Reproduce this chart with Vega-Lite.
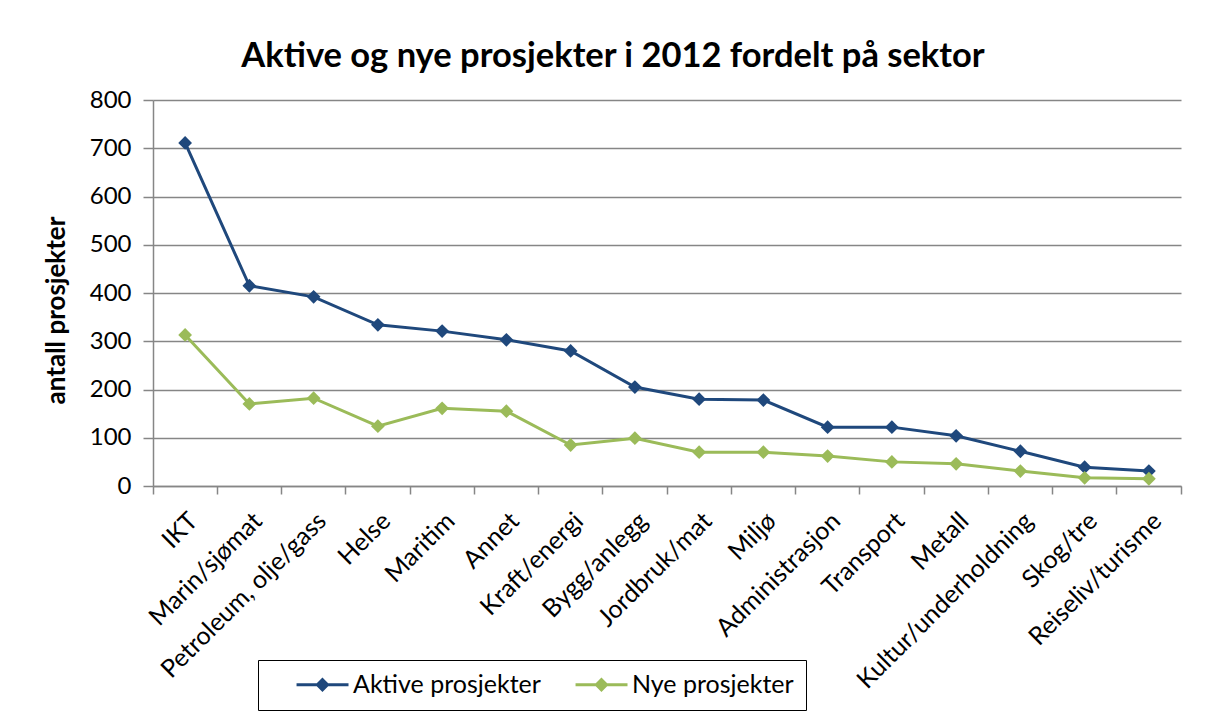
{
  "$schema": "https://vega.github.io/schema/vega-lite/v6.json",
  "width": 1028,
  "height": 386,
  "autosize": {"type": "none"},
  "padding": {"left": 153, "top": 100, "right": 25, "bottom": 231},
  "background": "white",
  "config": {
    "font": "Lato",
    "view": {"stroke": null},
    "axis": {"labelColor": "black", "titleColor": "black"}
  },
  "title": {
    "text": "Aktive og nye prosjekter i 2012 fordelt på sektor",
    "font": "Lato",
    "fontSize": 34.5,
    "fontWeight": "bold",
    "color": "black",
    "anchor": "middle",
    "dx": -54,
    "offset": 14
  },
  "data": {
    "values": [
      {"idx": 0, "sector": "IKT", "series": "Aktive prosjekter", "value": 711},
      {"idx": 1, "sector": "Marin/sjømat", "series": "Aktive prosjekter", "value": 415},
      {"idx": 2, "sector": "Petroleum, olje/gass", "series": "Aktive prosjekter", "value": 392},
      {"idx": 3, "sector": "Helse", "series": "Aktive prosjekter", "value": 334},
      {"idx": 4, "sector": "Maritim", "series": "Aktive prosjekter", "value": 321},
      {"idx": 5, "sector": "Annet", "series": "Aktive prosjekter", "value": 303},
      {"idx": 6, "sector": "Kraft/energi", "series": "Aktive prosjekter", "value": 280},
      {"idx": 7, "sector": "Bygg/anlegg", "series": "Aktive prosjekter", "value": 205},
      {"idx": 8, "sector": "Jordbruk/mat", "series": "Aktive prosjekter", "value": 180},
      {"idx": 9, "sector": "Miljø", "series": "Aktive prosjekter", "value": 178},
      {"idx": 10, "sector": "Administrasjon", "series": "Aktive prosjekter", "value": 122},
      {"idx": 11, "sector": "Transport", "series": "Aktive prosjekter", "value": 122},
      {"idx": 12, "sector": "Metall", "series": "Aktive prosjekter", "value": 104},
      {"idx": 13, "sector": "Kultur/underholdning", "series": "Aktive prosjekter", "value": 72},
      {"idx": 14, "sector": "Skog/tre", "series": "Aktive prosjekter", "value": 39},
      {"idx": 15, "sector": "Reiseliv/turisme", "series": "Aktive prosjekter", "value": 31},
      {"idx": 0, "sector": "IKT", "series": "Nye prosjekter", "value": 313},
      {"idx": 1, "sector": "Marin/sjømat", "series": "Nye prosjekter", "value": 170},
      {"idx": 2, "sector": "Petroleum, olje/gass", "series": "Nye prosjekter", "value": 182},
      {"idx": 3, "sector": "Helse", "series": "Nye prosjekter", "value": 124},
      {"idx": 4, "sector": "Maritim", "series": "Nye prosjekter", "value": 161},
      {"idx": 5, "sector": "Annet", "series": "Nye prosjekter", "value": 155},
      {"idx": 6, "sector": "Kraft/energi", "series": "Nye prosjekter", "value": 85},
      {"idx": 7, "sector": "Bygg/anlegg", "series": "Nye prosjekter", "value": 99},
      {"idx": 8, "sector": "Jordbruk/mat", "series": "Nye prosjekter", "value": 70},
      {"idx": 9, "sector": "Miljø", "series": "Nye prosjekter", "value": 70},
      {"idx": 10, "sector": "Administrasjon", "series": "Nye prosjekter", "value": 62},
      {"idx": 11, "sector": "Transport", "series": "Nye prosjekter", "value": 50},
      {"idx": 12, "sector": "Metall", "series": "Nye prosjekter", "value": 46},
      {"idx": 13, "sector": "Kultur/underholdning", "series": "Nye prosjekter", "value": 31},
      {"idx": 14, "sector": "Skog/tre", "series": "Nye prosjekter", "value": 17},
      {"idx": 15, "sector": "Reiseliv/turisme", "series": "Nye prosjekter", "value": 15}
    ]
  },
  "encoding": {
    "x": {
      "field": "sector", "type": "nominal", "sort": null,
      "scale": {"type": "band", "paddingInner": 0, "paddingOuter": 0},
      "axis": {
        "title": null,
        "bandPosition": 1,
        "tickExtra": true,
        "tickSize": 8,
        "tickColor": "#868686",
        "tickWidth": 1.5,
        "labelAngle": -45,
        "labelFontSize": 25,
        "labelPadding": 14,
        "labelLimit": 400,
        "domainColor": "#868686",
        "domainWidth": 1.5,
        "grid": false
      }
    },
    "y": {
      "field": "value", "type": "quantitative",
      "scale": {"domain": [0, 800], "nice": false},
      "axis": {
        "title": "antall prosjekter",
        "titleFontSize": 26,
        "titleFontWeight": "bold",
        "titlePadding": 20,
        "titleY": 210,
        "values": [0, 100, 200, 300, 400, 500, 600, 700, 800],
        "labelFontSize": 24,
        "labelPadding": 12,
        "tickSize": 10,
        "tickColor": "#868686",
        "tickWidth": 1.5,
        "domainColor": "#868686",
        "domainWidth": 1.5,
        "gridColor": "#868686",
        "gridWidth": 1.5
      }
    },
    "color": {
      "field": "series", "type": "nominal",
      "scale": {"domain": ["Aktive prosjekter", "Nye prosjekter"], "range": ["#1F487C", "#9BBB59"]},
      "legend": {
        "title": null,
        "orient": "none",
        "legendX": 105,
        "legendY": 560,
        "direction": "horizontal",
        "symbolType": "M1.17,-0.125H5.5V0.125H1.17Z M3.33,-0.6L3.93,0L3.33,0.6L2.73,0Z",
        "symbolSize": 576,
        "symbolStrokeWidth": 0,
        "labelFontSize": 25,
        "labelLimit": 400,
        "labelOffset": 58,
        "columnPadding": 8,
        "padding": 12,
        "strokeColor": "black"
      }
    }
  },
  "layer": [
    {
      "mark": {"type": "line", "strokeWidth": 3},
      "encoding": {
        "order": {"field": "idx", "type": "quantitative"}
      }
    },
    {
      "mark": {"type": "point", "shape": "diamond", "filled": true, "size": 190, "opacity": 1}
    }
  ]
}
